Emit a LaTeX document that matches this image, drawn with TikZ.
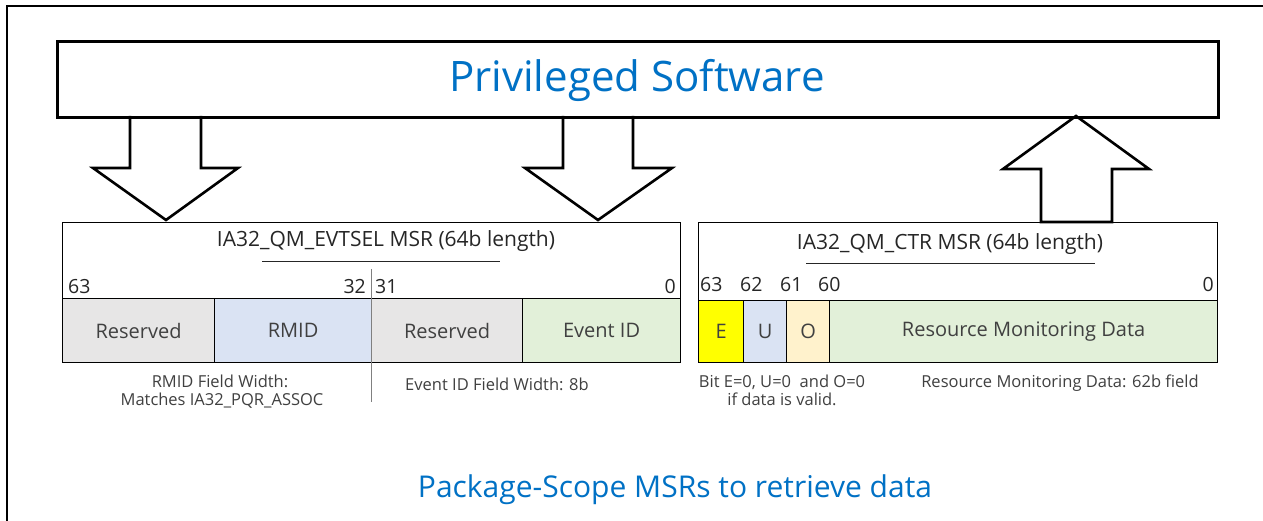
\documentclass[tikz,border=0pt]{standalone}
\usepackage{fontspec}
\setmainfont{Open Sans}
\definecolor{iblue}{HTML}{0071C5}
\definecolor{resgray}{HTML}{E7E6E6}
\definecolor{rmidblue}{HTML}{DAE3F3}
\definecolor{evgreen}{HTML}{E2F0D9}
\definecolor{oorange}{HTML}{FFF2CC}
\definecolor{eyellow}{HTML}{FFFF00}
\definecolor{txtgray}{HTML}{404040}
\definecolor{dark}{HTML}{262626}
\tikzset{
  frameline/.style={line width=2pt},
  swbox/.style={draw, line width=3pt, inner sep=0pt, anchor=north west},
  blockarr/.style={draw, line width=2.6pt, line join=miter, fill=white},
  hdr/.style={draw, line width=1.3pt, inner sep=0pt, anchor=north west},
  field/.style={draw, line width=1.2pt, inner sep=0pt, anchor=north west, text=txtgray,
    font=\fontsize{20}{24}\selectfont},
  title/.style={anchor=base, text=dark, inner sep=0pt, font=\fontsize{21}{25}\selectfont},
  bitnum/.style={text=dark, inner sep=0pt, font=\fontsize{19.5}{23}\selectfont},
  note/.style={anchor=base, text=txtgray, inner sep=0pt, font=\fontsize{16.5}{20}\selectfont},
  uline/.style={line width=0.8pt, draw=dark},
  divline/.style={line width=0.9pt, draw=gray}
}
\begin{document}
\begin{tikzpicture}[x=1pt,y=-1pt]
\useasboundingbox (0,0) rectangle (1263,521);
\fill[white] (0,0) rectangle (1263,521);
% outer frame (top and left only)
\draw[frameline] (7,521) -- (7,6) -- (1263,6);

% block arrows (drawn first so the boxes' borders stay on top)
\draw[blockarr] (130,116) -- (130,168) -- (93,168) -- (166,220) -- (238,168) -- (201,168) -- (201,116);
\draw[blockarr] (563,116) -- (563,168) -- (525,168) -- (598,220) -- (672,168) -- (633,168) -- (633,116);
\draw[blockarr] (1041,222) -- (1041,169) -- (1003,169) -- (1076,116) -- (1149,169) -- (1112,169) -- (1112,222) -- cycle;

% Privileged Software box
\node[swbox, minimum width=1161pt, minimum height=76pt] (sw) at (56,40) {};
\node[anchor=base, inner sep=0pt, text=iblue, font=\fontsize{42}{50}\selectfont] (swt) at (637,92) {Privileged Software};

% ===== IA32_QM_EVTSEL =====
\node[hdr, minimum width=618pt, minimum height=76pt] (evh) at (62,222) {};
\node[title] (evt) at (386,247) {IA32\_QM\_EVTSEL MSR (64b length)};
\draw[uline] (262,261) -- (500,261);
\node[field, fill=resgray, minimum width=152pt, minimum height=64pt] (f1) at (62,298) {Reserved};
\node[field, fill=rmidblue, minimum width=157pt, minimum height=64pt] (f2) at (214,298) {RMID};
\node[field, fill=resgray, minimum width=151pt, minimum height=64pt] (f3) at (371,298) {Reserved};
\node[field, fill=evgreen, minimum width=158pt, minimum height=64pt] (f4) at (522,298) {Event ID};
\node[bitnum, anchor=base west] (b63) at (68,294) {63};
\node[bitnum, anchor=base east] (b32) at (366,294) {32};
\node[bitnum, anchor=base west] (b31) at (375,294) {31};
\node[bitnum, anchor=base east] (b0) at (676,294) {0};
\draw[divline] (371,269) -- (371,402);
\node[note] (n1) at (220,387) {RMID Field Width:};
\node[note] (n2) at (222,405) {Matches IA32\_PQR\_ASSOC};
\node[note] (n3) at (497,390) {Event ID Field Width: 8b};

% ===== IA32_QM_CTR =====
\node[hdr, minimum width=519pt, minimum height=78pt] (ch) at (698,222) {};
\node[title] (ct) at (950,250) {IA32\_QM\_CTR MSR (64b length)};
\draw[uline] (806,263) -- (1095,263);
\node[field, fill=eyellow, minimum width=45pt, minimum height=62pt] (ce) at (698,300) {E};
\node[field, fill=rmidblue, minimum width=43pt, minimum height=62pt] (cu) at (743,300) {U};
\node[field, fill=oorange, minimum width=43pt, minimum height=62pt] (co) at (786,300) {O};
\node[field, fill=evgreen, minimum width=388pt, minimum height=62pt] (cd) at (829,300) {Resource Monitoring Data};
\node[bitnum, anchor=base west] (c63) at (700,291) {63};
\node[bitnum, anchor=base west] (c62) at (740,291) {62};
\node[bitnum, anchor=base west] (c61) at (780,291) {61};
\node[bitnum, anchor=base west] (c60) at (818,291) {60};
\node[bitnum, anchor=base east] (c0) at (1214,291) {0};
\node[note] (n4) at (782,387) {Bit E=0, U=0~ and O=0};
\node[note] (n5) at (782,405) {if data is valid.};
\node[note] (n6) at (1060,387) {Resource Monitoring Data: 62b field};

% bottom caption
\node[anchor=base, inner sep=0pt, text=iblue, font=\fontsize{30}{36}\selectfont] (cap) at (675,497) {Package-Scope MSRs to retrieve data};
\end{tikzpicture}
\end{document}
